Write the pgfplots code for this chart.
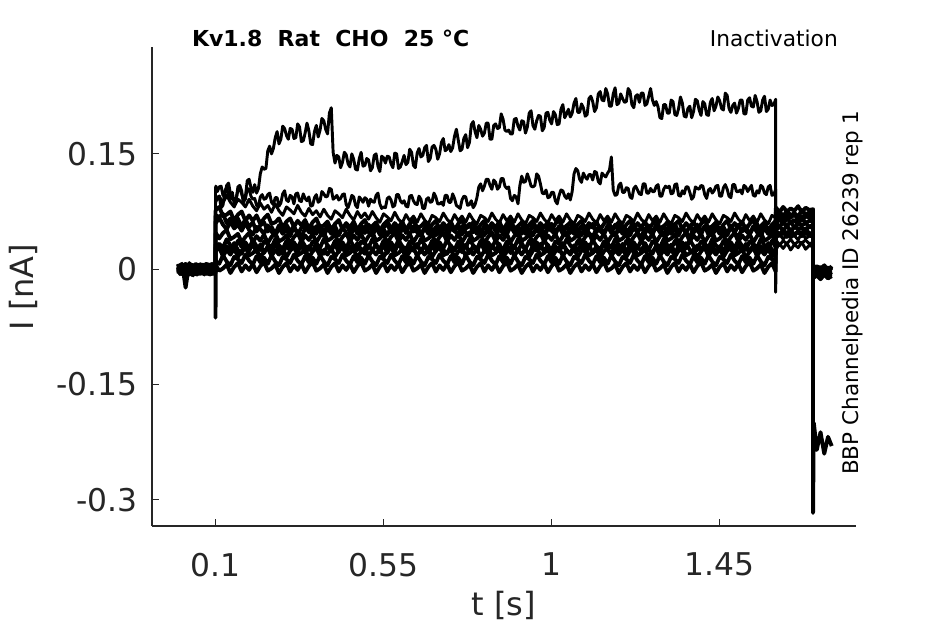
\documentclass[border=0pt]{standalone}
\usepackage{fontspec}
\setmainfont{DejaVu Sans}
\usepackage{pgfplots}
\usepackage{pgfplotstable}
\pgfplotsset{compat=1.18}
\definecolor{axc}{rgb}{0.15,0.15,0.15}
% t in ms, currents in pA
% the two largest traces, sampled every 5 ms
\pgfplotstableread{
t a b
0 5 -6
5 -3 4
10 -7 3
15 2 -5
20 4 -8
25 -5 6
30 -3 5
35 6 -2
40 6 -1
45 -4 7
50 -4 7
55 3 -4
60 2 -4
65 -6 1
70 -6 0
75 4 -6
80 7 -3
85 -2 5
90 -1 6
95 3 -2
100 2 -4
100 85 105
101 88 108
105 92 101
110 95 107
115 80 108
120 83 96
125 102 98
130 106 109
135 94 112
140 92 98
145 100 91
150 85 92
155 88 91
160 107 103
165 109 104
170 102 98
175 86 89
180 94 91
185 115 105
190 117 104
195 106 95
200 100 91
205 110 92
210 99 83
215 105 81
220 124 94
225 133 97
230 130 91
235 131 92
240 154 97
245 160 99
250 150 87
255 157 84
260 171 93
265 179 93
270 163 82
275 169 86
280 186 98
285 183 102
290 174 90
295 169 88
300 183 96
305 182 94
310 170 85
315 171 98
320 189 99
325 185 89
330 166 88
335 167 98
340 177 92
345 190 89
350 180 94
355 163 82
360 162 83
365 179 93
370 187 97
375 172 87
380 181 89
385 196 101
390 193 98
395 182 94
400 176 95
405 203 105
410 210 104
415 152 91
420 138 93
425 148 96
430 146 90
435 132 92
440 139 97
445 152 98
450 149 84
455 137 80
460 133 87
465 150 96
470 143 94
475 130 83
480 129 80
485 144 94
490 152 91
495 134 87
500 135 93
505 144 91
510 142 82
515 128 91
520 132 88
525 148 87
530 150 96
535 134 99
540 127 85
545 147 79
550 145 81
555 138 80
560 147 92
565 146 94
570 137 90
575 132 81
580 151 83
585 150 97
590 131 97
595 133 89
600 140 86
605 148 89
610 136 82
615 139 81
620 156 95
625 152 96
630 135 89
635 132 85
640 151 84
645 157 95
650 146 91
655 148 79
660 158 79
665 161 91
670 140 93
675 144 87
680 159 88
685 161 99
690 156 94
695 143 85
700 150 85
705 165 87
710 170 83
715 154 96
720 156 96
725 162 87
730 153 87
735 158 98
740 173 92
745 182 83
750 168 81
755 154 79
760 156 90
765 170 95
770 175 94
775 158 83
780 165 84
785 188 89
790 192 80
795 179 84
800 171 93
805 187 107
810 182 111
815 173 102
820 177 108
825 190 117
830 190 117
835 169 109
840 169 104
845 187 116
850 189 113
855 183 104
860 184 107
865 202 118
870 195 118
875 181 108
880 179 105
885 181 107
890 176 92
895 176 89
900 195 96
905 196 94
910 186 85
915 181 109
920 193 121
925 192 113
930 177 114
935 185 124
940 203 117
945 206 108
950 187 107
955 182 109
960 193 124
965 200 121
970 199 111
975 180 99
980 184 98
985 203 103
990 204 93
995 194 94
1000 189 100
1005 205 100
1010 201 89
1015 188 85
1020 189 96
1025 208 103
1030 214 102
1035 197 95
1040 202 92
1045 208 98
1050 198 90
1055 203 101
1060 216 124
1065 222 131
1070 204 128
1075 204 117
1080 215 113
1085 210 125
1090 199 120
1095 201 117
1100 222 123
1105 225 123
1110 218 116
1115 205 127
1120 210 126
1125 228 114
1130 231 111
1135 220 125
1140 219 122
1145 235 120
1150 228 125
1155 212 129
1160 212 146
1165 228 103
1170 236 96
1175 214 97
1180 216 109
1185 228 112
1190 222 100
1195 217 100
1200 218 106
1205 235 105
1210 231 94
1215 214 92
1220 210 105
1225 225 108
1230 227 103
1235 217 98
1240 229 97
1245 229 111
1250 213 111
1255 215 99
1260 225 99
1265 235 105
1270 220 101
1275 213 101
1280 218 108
1285 211 110
1290 197 95
1295 196 95
1300 214 104
1305 214 108
1310 203 106
1315 203 108
1320 220 98
1325 218 99
1330 201 110
1335 200 111
1340 209 96
1345 224 95
1350 216 102
1355 199 98
1360 198 107
1365 209 107
1370 212 100
1375 197 91
1380 205 94
1385 221 107
1390 219 105
1395 207 104
1400 200 109
1405 218 108
1410 215 97
1415 201 92
1420 200 103
1425 217 105
1430 222 99
1435 206 102
1440 212 108
1445 224 109
1450 219 95
1455 209 95
1460 207 106
1465 229 110
1470 226 104
1475 209 95
1480 204 93
1485 213 110
1490 216 110
1495 203 101
1500 209 101
1505 220 103
1510 220 98
1515 202 109
1520 202 107
1525 220 101
1530 223 105
1535 212 109
1540 211 96
1545 226 95
1550 218 102
1555 204 99
1560 206 109
1565 220 107
1570 225 99
1575 205 97
1580 208 107
1585 220 109
1590 213 96
1595 214 97
1600 221 104
1600 -30 36
1601 26 38
1610 33 31
1620 27 37
1630 34 33
1640 25 39
1650 32 32
1660 28 36
1670 35 34
1680 26 38
1690 31 33
1700 29 35
1700 -4 -2
1702 -6 -4
1710 -2 -6
1720 -7 -1
1730 -3 -5
1740 -8 -2
1750 -4 -4
}\topab
% the smaller traces, sampled every 10 ms
\pgfplotstableread{
t c d e f g h i j k l
0 2 -4 7 0 -5 3 -2 6 2 -3
5 -7 1 -2 5 2 -6 4 -1 -5 4
10 -1 6 -4 2 5 -3 7 -5 4 -6
15 6 -2 4 -7 -1 5 -4 3 -3 1
20 5 -1 0 -24 1 7 -4 -2 6 -2
25 -3 4 -6 -8 3 -2 5 -7 -1 5
30 -6 3 8 -1 -7 0 4 2 -4 -5
35 4 -7 1 3 -4 6 -1 -3 3 2
40 3 -7 -2 4 0 -4 2 -8 -6 3
45 -2 2 5 -6 4 -1 -5 1 5 -4
50 -3 1 4 -6 2 5 -7 0 -2 6
55 6 -5 -1 2 -6 3 1 5 1 -1
60 7 -6 -1 3 -3 -2 3 4 -3 4
65 -4 5 3 -2 6 -5 -3 2 4 -3
70 -4 4 6 -7 5 2 -3 -1 -5 0
75 2 -3 -5 6 -1 4 7 -4 2 -6
80 1 -4 -6 0 -2 -5 5 3 -1 5
85 -5 6 2 -3 4 -7 -1 1 5 -2
90 -7 0 3 -3 7 4 -4 -4 -4 1
95 4 -5 -3 5 -4 1 6 -6 3 -5
100 3 -1 -3 4 -5 0 1 -2 -2 3
100 95 75 62 45 32 22 12 -63 27 68
101 92 77 60 47 30 24 10 5 29 70
110 95 81 67 40 33 28 7 -2 32 68
120 86 69 58 47 28 17 18 1 21 72
130 96 71 52 51 39 25 10 6 30 60
140 87 75 62 39 31 19 5 -5 23 66
150 81 63 53 42 26 27 16 3 34 56
160 91 71 58 46 37 16 13 8 25 66
170 87 75 50 35 29 24 8 -3 20 55
180 81 63 60 42 35 29 19 5 31 65
190 91 70 51 47 27 18 11 -1 24 55
200 82 63 45 35 38 21 6 7 33 61
210 76 70 55 43 30 26 17 -4 22 49
220 86 59 52 37 25 15 9 4 32 57
230 78 66 46 45 36 23 15 9 21 61
240 83 71 57 34 33 28 7 -2 30 49
250 74 59 49 42 28 17 18 1 23 55
260 85 61 43 47 39 25 10 6 34 46
270 76 66 54 36 31 19 5 -5 25 57
280 70 54 46 39 26 27 16 3 20 47
290 81 62 51 44 37 16 13 8 31 58
300 77 66 43 33 29 24 8 -3 24 49
310 72 55 55 42 35 29 19 5 33 56
320 83 63 47 47 27 18 11 -1 22 45
330 74 57 42 36 38 21 6 7 32 54
340 69 64 53 44 30 26 17 -4 21 59
350 79 53 50 38 25 15 9 4 30 48
360 71 61 45 46 36 23 15 9 23 55
370 76 66 56 35 33 28 7 -2 34 46
380 68 54 48 43 28 17 18 1 25 57
390 78 57 43 48 39 25 10 6 20 47
400 70 62 54 37 31 19 5 -5 31 58
410 65 51 46 40 26 27 16 3 24 49
420 76 59 52 45 37 16 13 8 33 56
430 72 64 44 34 29 24 8 -3 22 45
440 67 52 55 42 35 29 19 5 32 54
450 78 60 47 47 27 18 11 -1 21 59
460 70 54 42 36 38 21 6 7 30 48
470 64 62 53 44 30 26 17 -4 23 55
480 75 51 50 38 25 15 9 4 34 46
490 67 59 45 46 36 23 15 9 25 57
500 73 64 56 35 33 28 7 -2 20 47
510 65 53 48 43 28 17 18 1 31 58
520 75 56 43 48 39 25 10 6 24 49
530 67 61 54 37 31 19 5 -5 33 56
540 61 50 46 40 26 27 16 3 22 45
550 72 58 52 45 37 16 13 8 32 54
560 68 63 44 34 29 24 8 -3 21 59
570 63 52 55 42 35 29 19 5 30 48
580 74 60 47 47 27 18 11 -1 23 55
590 65 54 42 36 38 21 6 7 34 46
600 60 62 53 44 30 26 17 -4 25 57
610 71 51 50 38 25 15 9 4 20 47
620 63 59 45 46 36 23 15 9 31 58
630 69 64 56 35 33 28 7 -2 24 49
640 61 53 48 43 28 17 18 1 33 56
650 72 56 43 48 39 25 10 6 22 45
660 64 61 54 37 31 19 5 -5 32 54
670 59 50 46 40 26 27 16 3 21 59
680 70 58 52 45 37 16 13 8 30 48
690 67 63 44 34 29 24 8 -3 23 55
700 62 52 55 42 35 29 19 5 34 46
710 73 60 47 47 27 18 11 -1 25 57
720 65 54 42 36 38 21 6 7 20 47
730 60 62 53 44 30 26 17 -4 31 58
740 71 51 50 38 25 15 9 4 24 49
750 63 59 45 46 36 23 15 9 33 56
760 69 64 56 35 33 28 7 -2 22 45
770 61 53 48 43 28 17 18 1 32 54
780 72 56 43 48 39 25 10 6 21 59
790 64 61 54 37 31 19 5 -5 30 48
800 59 50 46 40 26 27 16 3 23 55
810 70 58 52 45 37 16 13 8 34 46
820 67 63 44 34 29 24 8 -3 25 57
830 62 52 55 42 35 29 19 5 20 47
840 73 60 47 47 27 18 11 -1 31 58
850 65 54 42 36 38 21 6 7 24 49
860 60 62 53 44 30 26 17 -4 33 56
870 71 51 50 38 25 15 9 4 22 45
880 63 59 45 46 36 23 15 9 32 54
890 69 64 56 35 33 28 7 -2 21 59
900 61 53 48 43 28 17 18 1 30 48
910 72 56 43 48 39 25 10 6 23 55
920 64 61 54 37 31 19 5 -5 34 46
930 59 50 46 40 26 27 16 3 25 57
940 70 58 52 45 37 16 13 8 20 47
950 67 63 44 34 29 24 8 -3 31 58
960 62 52 55 42 35 29 19 5 24 49
970 73 60 47 47 27 18 11 -1 33 56
980 65 54 42 36 38 21 6 7 22 45
990 60 62 53 44 30 26 17 -4 32 54
1000 71 51 50 38 25 15 9 4 21 59
1010 63 59 45 46 36 23 15 9 30 48
1020 69 64 56 35 33 28 7 -2 23 55
1030 61 53 48 43 28 17 18 1 34 46
1040 72 56 43 48 39 25 10 6 25 57
1050 64 61 54 37 31 19 5 -5 20 47
1060 59 50 46 40 26 27 16 3 31 58
1070 70 58 52 45 37 16 13 8 24 49
1080 67 63 44 34 29 24 8 -3 33 56
1090 62 52 55 42 35 29 19 5 22 45
1100 73 60 47 47 27 18 11 -1 32 54
1110 65 54 42 36 38 21 6 7 21 59
1120 60 62 53 44 30 26 17 -4 30 48
1130 71 51 50 38 25 15 9 4 23 55
1140 63 59 45 46 36 23 15 9 34 46
1150 69 64 56 35 33 28 7 -2 25 57
1160 61 53 48 43 28 17 18 1 20 47
1170 72 56 43 48 39 25 10 6 31 58
1180 64 61 54 37 31 19 5 -5 24 49
1190 59 50 46 40 26 27 16 3 33 56
1200 70 58 52 45 37 16 13 8 22 45
1210 67 63 44 34 29 24 8 -3 32 54
1220 62 52 55 42 35 29 19 5 21 59
1230 73 60 47 47 27 18 11 -1 30 48
1240 65 54 42 36 38 21 6 7 23 55
1250 60 62 53 44 30 26 17 -4 34 46
1260 71 51 50 38 25 15 9 4 25 57
1270 63 59 45 46 36 23 15 9 20 47
1280 69 64 56 35 33 28 7 -2 31 58
1290 61 53 48 43 28 17 18 1 24 49
1300 72 56 43 48 39 25 10 6 33 56
1310 64 61 54 37 31 19 5 -5 22 45
1320 59 50 46 40 26 27 16 3 32 54
1330 70 58 52 45 37 16 13 8 21 59
1340 67 63 44 34 29 24 8 -3 30 48
1350 62 52 55 42 35 29 19 5 23 55
1360 73 60 47 47 27 18 11 -1 34 46
1370 65 54 42 36 38 21 6 7 25 57
1380 60 62 53 44 30 26 17 -4 20 47
1390 71 51 50 38 25 15 9 4 31 58
1400 63 59 45 46 36 23 15 9 24 49
1410 69 64 56 35 33 28 7 -2 33 56
1420 61 53 48 43 28 17 18 1 22 45
1430 72 56 43 48 39 25 10 6 32 54
1440 64 61 54 37 31 19 5 -5 21 59
1450 59 50 46 40 26 27 16 3 30 48
1460 70 58 52 45 37 16 13 8 23 55
1470 67 63 44 34 29 24 8 -3 34 46
1480 62 52 55 42 35 29 19 5 25 57
1490 73 60 47 47 27 18 11 -1 20 47
1500 65 54 42 36 38 21 6 7 31 58
1510 60 62 53 44 30 26 17 -4 24 49
1520 71 51 50 38 25 15 9 4 33 56
1530 63 59 45 46 36 23 15 9 22 45
1540 69 64 56 35 33 28 7 -2 32 54
1550 61 53 48 43 28 17 18 1 21 59
1560 72 56 43 48 39 25 10 6 30 48
1570 64 61 54 37 31 19 5 -5 23 55
1580 59 50 46 40 26 27 16 3 34 46
1590 70 58 52 45 37 16 13 8 25 57
1600 67 63 44 34 29 24 8 -3 20 47
1600 44 47 55 57 63 66 74 78 44 69
1601 40 50 51 60 60 69 71 80 47 66
1610 46 45 56 55 65 64 75 74 43 71
1620 39 51 50 61 59 70 69 81 48 65
1630 45 46 57 56 66 65 76 75 42 70
1640 41 52 49 62 61 68 70 79 46 67
1650 44 44 55 54 64 71 73 76 45 72
1660 38 49 52 59 58 66 68 82 49 64
1670 47 47 54 57 67 63 77 74 43 69
1680 40 53 50 60 60 69 71 80 47 68
1690 43 46 56 55 63 67 74 77 44 73
1700 42 48 53 58 62 66 72 78 46 66
1700 -7 -1 -5 3 -9 1 -3 -317 -6 1
1702 -9 0 -7 1 -11 2 -5 -200 -8 -1
1710 -5 -3 -4 4 -8 -1 -2 -235 -3 3
1720 -10 1 -8 0 -13 3 -6 -212 -9 0
1730 -6 -4 -3 5 -7 -2 -1 -240 -5 2
1740 -9 2 -6 -1 -12 1 -5 -218 -7 -2
1750 -7 -2 -5 3 -9 0 -3 -230 -4 4
}\traces
\pgfplotsset{
  tr/.style={black, line width=2.2bp, line join=round, no markers},
  trb/.style={black, line width=2.9bp, line join=round, no markers}}
\begin{document}
\begin{tikzpicture}
\path[use as bounding box] (0,0) rectangle (708.75bp,468bp);
\begin{axis}[
  at={(114bp,73.5bp)}, anchor=south west, scale only axis,
  width=528bp, height=359.25bp,
  xmin=-70, xmax=1815, ymin=-334, ymax=289,
  axis x line=bottom, axis y line=left,
  axis line style={-, draw=axc, line width=0.9bp},
  tick align=inside, major tick length=5bp,
  tick style={draw=axc, line width=0.9bp},
  xtick={100,550,1000,1450}, xticklabels={0.1,0.55,1,1.45},
  ytick={-300,-150,0,150}, yticklabels={-0.3,-0.15,0,0.15},
  ticklabel style={font=\fontsize{23.5bp}{28bp}\selectfont, text=axc, inner sep=0pt},
  xticklabel style={anchor=north, yshift=-19.9bp},
  yticklabel style={anchor=east, xshift=-10.5bp},
]
\addplot[trb] table[x=t,y=j]{\traces};
\addplot[trb] table[x=t,y=i]{\traces};
\addplot[trb] table[x=t,y=h]{\traces};
\addplot[trb] table[x=t,y=k]{\traces};
\addplot[trb] table[x=t,y=g]{\traces};
\addplot[trb] table[x=t,y=f]{\traces};
\addplot[trb] table[x=t,y=e]{\traces};
\addplot[trb] table[x=t,y=l]{\traces};
\addplot[trb] table[x=t,y=d]{\traces};
\addplot[tr] table[x=t,y=c]{\traces};
\addplot[tr] table[x=t,y=b]{\topab};
\addplot[tr] table[x=t,y=a]{\topab};
\end{axis}
\node[anchor=base, inner sep=0pt, font=\bfseries\fontsize{16.5bp}{20bp}\selectfont] at (248bp,432.75bp) {Kv1.8\ \ Rat\ \ CHO\ \ 25 °C};
\node[anchor=base east, inner sep=0pt, font=\fontsize{16.3bp}{20bp}\selectfont] at (628.5bp,432.75bp) {Inactivation};
\node[rotate=90, anchor=base west, inner sep=0pt, font=\fontsize{16.1bp}{20bp}\selectfont] at (643.5bp,111.75bp) {BBP Channelpedia ID 26239 rep 1};
\node[anchor=base, inner sep=0pt, text=axc, font=\fontsize{24bp}{28bp}\selectfont] at (378bp,6.1bp) {t [s]};
\node[rotate=90, anchor=base, inner sep=0pt, text=axc, font=\fontsize{24bp}{28bp}\selectfont] at (24.75bp,252.75bp) {I [nA]};
\end{tikzpicture}
\end{document}
